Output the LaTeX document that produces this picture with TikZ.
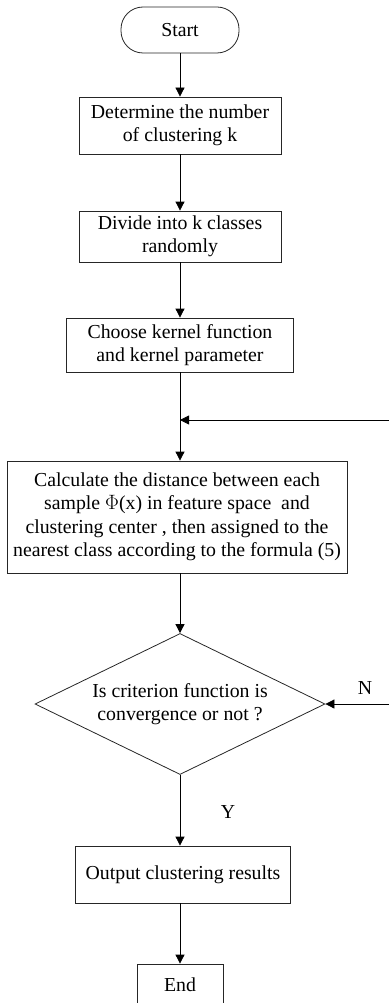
\documentclass[tikz,border=0pt]{standalone}
\usepackage{fontspec}
\setmainfont{Liberation Serif}
\usetikzlibrary{shapes.geometric,arrows.meta}
\begin{document}
\begin{tikzpicture}[x=1pt,y=-1pt,
  every node/.style={font=\fontsize{19.8}{23.5}\selectfont},
  box/.style={draw=black!85,line width=0.8pt,rectangle,align=center,inner sep=1pt},
  term/.style={box,rounded corners=22pt},
  dec/.style={draw=black!85,line width=0.8pt,diamond,align=center,inner sep=0pt,shape aspect=2.06},
  lbl/.style={inner sep=0pt},
  arr/.style={line width=0.8pt,-{Triangle[width=9pt,length=9pt]}},
  ln/.style={line width=0.8pt}]
\useasboundingbox (0,0) rectangle (388,1003);
\node[term,minimum width=118pt,minimum height=46pt] (start) at (180,30) {Start};
\node[box,minimum width=202pt,minimum height=57pt] (b1) at (180,125.5) {Determine the number\\of clustering k};
\node[box,minimum width=202pt,minimum height=51pt] (b2) at (180,236.5) {Divide into k classes\\randomly};
\node[box,minimum width=227pt,minimum height=54pt] (b3) at (180,345) {Choose kernel function\\and kernel parameter};
\node[box,minimum width=340pt,minimum height=112pt,inner sep=0pt] (b4) at (177,517) {Calculate the distance between each\\sample $\Phi$(x) in feature space\ \ and\\clustering center , then assigned to the\\nearest class according to the formula (5)};
\node[dec,minimum width=290pt,minimum height=141pt] (d) at (180,704) {Is criterion function is\\convergence or not ?};
\node[box,minimum width=215pt,minimum height=57pt] (out) at (183,874.5) {Output clustering results};
\node[box,minimum width=86pt,minimum height=42pt] (end) at (180,985) {End};
\node[lbl] (N) at (365,688) {N};
\node[lbl] (Y) at (228,812) {Y};
\coordinate (j) at (180,420);
\coordinate (r1) at (390,420);
\coordinate (r2) at (390,704);
\draw[arr] (start.south) -- (b1.north);
\draw[arr] (b1.south) -- (b2.north);
\draw[arr] (b2.south) -- (b3.north);
\draw[arr] (b3.south) -- (b3.south |- b4.north);
\draw[arr] (r1) -- (j);
\draw[arr] (b4.south -| d.north) -- (d.north);
\draw[arr] (r2) -- (d.east);
\draw[arr] (d.south) -- (d.south |- out.north);
\draw[arr] (d.south |- out.south) -- (end.north);
\end{tikzpicture}
\end{document}
